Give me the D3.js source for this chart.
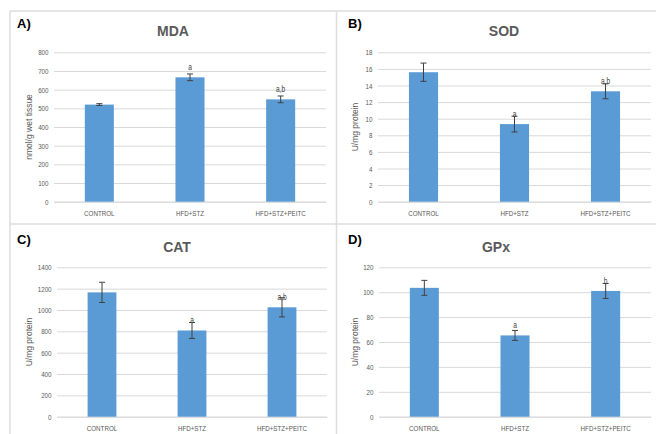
<!DOCTYPE html>
<html>
<head>
<meta charset="utf-8">
<script src="https://cdn.jsdelivr.net/npm/d3@7"></script>
<style>
  body { margin: 0; background: #fff; }
  svg { display: block; }
</style>
</head>
<body>
<script>
// valores
const groups = ["CONTROL", "HFD+STZ", "HFD+STZ+PEITC"];

const mdaMeans = [520, 666, 548];
const mdaErr = [5, 18, 18];
const mdaSig = ["", "a", "a,b"];
const mdaTicks = [0, 100, 200, 300, 400, 500, 600, 700, 800];

const sodMeans = [15.6, 9.35, 13.3];
const sodErr = [1.1, 0.95, 0.9];
const sodSig = ["", "a", "a,b"];
const sodTicks = [0, 2, 4, 6, 8, 10, 12, 14, 16, 18];

const catMeans = [1165, 808, 1025];
const catErr = [95, 75, 90];
const catSig = ["", "a", "a,b"];
const catTicks = [0, 200, 400, 600, 800, 1000, 1200, 1400];

const gpxMeans = [103.5, 65.3, 101];
const gpxErr = [6, 4, 6];
const gpxSig = ["", "a", "b"];
const gpxTicks = [0, 20, 40, 60, 80, 100, 120];

// layout de cada painel
let paineis = [
  { tag: "A)", title: "MDA", yLabel: "nmol/g wet tissue", means: mdaMeans, err: mdaErr, sig: mdaSig, ticks: mdaTicks,
    x0: 54, x1: 326, yTop: 52.3, yBot: 201.7, tagX: 17, tagY: 28, titleX: 173, titleY: 36, yLabX: 29, xLabY: 216 },
  { tag: "B)", title: "SOD", yLabel: "U/mg protein", means: sodMeans, err: sodErr, sig: sodSig, ticks: sodTicks,
    x0: 378, x1: 651, yTop: 52.3, yBot: 201.7, tagX: 348, tagY: 28, titleX: 504, titleY: 36, yLabX: 355, xLabY: 216 },
  { tag: "C)", title: "CAT", yLabel: "U/mg protein", means: catMeans, err: catErr, sig: catSig, ticks: catTicks,
    x0: 57, x1: 327, yTop: 267.3, yBot: 416.7, tagX: 17, tagY: 244, titleX: 177, titleY: 252, yLabX: 29, xLabY: 431 },
  { tag: "D)", title: "GPx", yLabel: "U/mg protein", means: gpxMeans, err: gpxErr, sig: gpxSig, ticks: gpxTicks,
    x0: 379, x1: 651, yTop: 267.3, yBot: 416.7, tagX: 348, tagY: 244, titleX: 496, titleY: 252, yLabX: 355, xLabY: 431 }
];

const corBarra = "#5b9bd5";
const corTexto = "#595959";
const fonte = "'Liberation Sans', Arial, sans-serif";
const aperto = 0.78; // fonte estreita simulada

const svg = d3.select("body").append("svg")
  .attr("width", 656)
  .attr("height", 434);

svg.append("rect").attr("width", 656).attr("height", 434).attr("fill", "#fff");

// bordas dos paineis
svg.append("g")
  .attr("stroke", "#dedede")
  .attr("stroke-width", 1.5)
  .selectAll("line")
  .data([[10, 11, 10, 434], [336.5, 11, 336.5, 434], [10, 11, 656, 11], [10, 224, 656, 224]])
  .join("line")
  .attr("x1", d => d[0]).attr("y1", d => d[1])
  .attr("x2", d => d[2]).attr("y2", d => d[3]);

function desenharPainel(p) {
  const g = svg.append("g");
  const yMax = p.ticks[p.ticks.length - 1];

  const x = d3.scaleBand().domain(groups).range([p.x0, p.x1]).padding(0);
  const y = d3.scaleLinear().domain([0, yMax]).range([p.yBot, p.yTop]);
  const larguraBarra = x.bandwidth() * 0.32;
  const centro = i => x(groups[i]) + x.bandwidth() / 2;

  // grade + rotulos do eixo y
  const eixoY = g.append("g")
    .attr("transform", `translate(${p.x0},0)`)
    .call(d3.axisLeft(y).tickValues(p.ticks).tickSize(-(p.x1 - p.x0)).tickPadding(7).tickFormat(d3.format("d")));
  eixoY.select(".domain").remove();
  eixoY.selectAll(".tick line").attr("stroke", "#d9d9d9").attr("stroke-width", 1);
  eixoY.selectAll(".tick text")
    .attr("fill", corTexto)
    .attr("transform", `scale(${aperto},1)`)
    .style("font-family", fonte)
    .style("font-size", "8px");

  // eixo x
  const eixoX = g.append("g")
    .attr("transform", `translate(0,${p.yBot})`)
    .call(d3.axisBottom(x).tickSize(0));
  eixoX.select(".domain").attr("stroke", "#d9d9d9");
  eixoX.selectAll(".tick text").remove();
  g.selectAll(".xlab")
    .data(groups)
    .join("text")
    .attr("transform", (d, i) => `translate(${centro(i)},${p.xLabY}) scale(${aperto},1)`)
    .attr("text-anchor", "middle")
    .attr("fill", corTexto)
    .style("font-family", fonte)
    .style("font-size", "8px")
    .text(d => d);

  // barras
  g.selectAll(".bar")
    .data(p.means)
    .join("rect")
    .attr("x", (d, i) => centro(i) - larguraBarra / 2)
    .attr("y", d => y(d))
    .attr("width", larguraBarra)
    .attr("height", d => y(0) - y(d))
    .attr("fill", corBarra);

  // barras de erro
  const erro = g.append("g").attr("stroke", "#404040").attr("stroke-width", 1);
  p.means.forEach((m, i) => {
    const cx = centro(i);
    const top = y(m + p.err[i]);
    const bot = y(m - p.err[i]);
    erro.append("line").attr("x1", cx).attr("x2", cx).attr("y1", top).attr("y2", bot);
    erro.append("line").attr("x1", cx - 3).attr("x2", cx + 3).attr("y1", top).attr("y2", top);
    erro.append("line").attr("x1", cx - 3).attr("x2", cx + 3).attr("y1", bot).attr("y2", bot);
  });

  // letras de significancia
  g.selectAll(".sig")
    .data(p.sig)
    .join("text")
    .attr("transform", (d, i) => `translate(${centro(i)},${y(p.means[i]) - 7}) scale(${aperto},1)`)
    .attr("text-anchor", "middle")
    .attr("fill", "#404040")
    .style("font-family", fonte)
    .style("font-size", "8.5px")
    .text(d => d);

  // titulo do eixo y
  g.append("text")
    .attr("transform", `translate(${p.yLabX},${(p.yTop + p.yBot) / 2}) rotate(-90)`)
    .attr("text-anchor", "middle")
    .attr("dy", "0.35em")
    .attr("fill", corTexto)
    .style("font-family", fonte)
    .style("font-size", "8.5px")
    .text(p.yLabel);

  // titulo do grafico
  g.append("text")
    .attr("x", p.titleX)
    .attr("y", p.titleY)
    .attr("text-anchor", "middle")
    .attr("fill", corTexto)
    .style("font-family", fonte)
    .style("font-size", "14px")
    .style("font-weight", "bold")
    .text(p.title);

  // letra do painel
  g.append("text")
    .attr("x", p.tagX)
    .attr("y", p.tagY)
    .attr("fill", "#000")
    .style("font-family", fonte)
    .style("font-size", "13px")
    .style("font-weight", "bold")
    .text(p.tag);
}

paineis.forEach(desenharPainel);
</script>
</body>
</html>
